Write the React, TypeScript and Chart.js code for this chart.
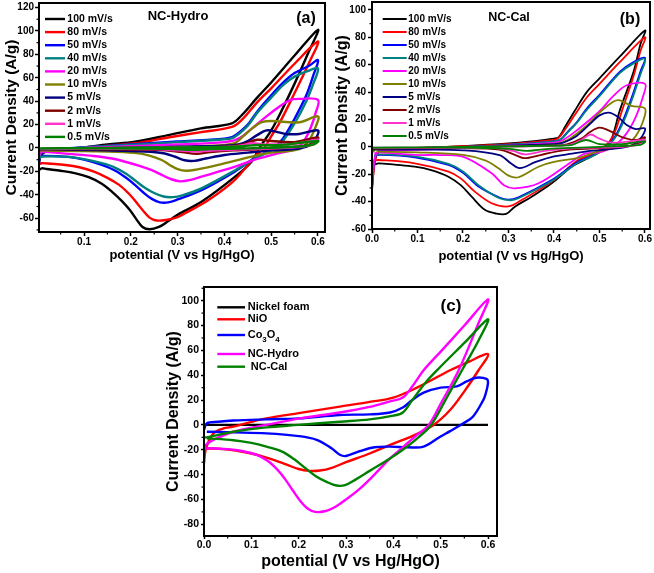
import React, { useEffect, useRef } from 'react';
import { Chart, registerables } from 'chart.js';

Chart.register(...registerables);

type Pt = [number, number];

const FONT = "'Liberation Sans', Arial, Helvetica, sans-serif";

// ---------------- Panel (a) NC-Hydro ----------------
const ratesA = ['100 mV/s', '80 mV/s', '50 mV/s', '40 mV/s', '20 mV/s', '10 mV/s', '5 mV/s', '2 mV/s', '1 mV/s', '0.5 mV/s'];
const xTicksA = [0.1, 0.2, 0.3, 0.4, 0.5, 0.6];
const yTicksA = [-60, -40, -20, 0, 20, 40, 60, 80, 100, 120];

const a100: Pt[] = [[0.001,-32],[0.006,-8],[0.02,-3],[0.05,-1.5],[0.1,0.5],[0.15,3],[0.209,5.4],[0.28,11],[0.35,16.8],[0.416,21],[0.437,28],[0.47,43],[0.5,56],[0.55,79],[0.6,101],
  [0.58,82],[0.55,55],[0.52,30],[0.5,15],[0.475,0],[0.458,-11.7],[0.423,-24.5],[0.351,-46],[0.3,-57],[0.28,-62.5],[0.26,-67.5],[0.24,-69.5],[0.225,-67.5],[0.212,-61],[0.198,-53],[0.18,-45],[0.16,-37.5],[0.138,-30.5],[0.11,-25],[0.08,-21.5],[0.05,-19.5],[0.02,-18],[0.0096,-17.4],[0.003,-19]];
const a80: Pt[] = [[0.001,-28],[0.006,-6],[0.02,-3],[0.05,-1.5],[0.1,0],[0.15,2],[0.209,4],[0.28,9],[0.35,13.5],[0.416,18],[0.437,24],[0.47,39],[0.5,51],[0.55,72],[0.6,91],
  [0.58,72],[0.55,47],[0.52,23],[0.5,10],[0.485,0],[0.465,-7.4],[0.423,-27],[0.366,-44.5],[0.316,-55.8],[0.3,-59],[0.275,-61.5],[0.255,-62],[0.24,-59.5],[0.225,-53],[0.21,-45.5],[0.195,-38.7],[0.175,-31.5],[0.15,-25.5],[0.12,-20],[0.09,-16.5],[0.06,-14.5],[0.03,-13.5],[0.0096,-13],[0.003,-14]];
const a50: Pt[] = [[0.001,-45],[0.006,-6],[0.02,-2.5],[0.05,-1],[0.1,0.5],[0.2,3],[0.3,5.5],[0.4,8],[0.42,10],[0.45,20],[0.47,31],[0.5,45],[0.526,56],[0.55,64],[0.58,70],[0.6,75],
  [0.59,62],[0.575,45],[0.55,25],[0.525,8],[0.505,0],[0.465,-8.5],[0.423,-20],[0.351,-36],[0.3,-44],[0.28,-46.5],[0.262,-46.5],[0.245,-43.5],[0.228,-38.5],[0.21,-32],[0.19,-25.5],[0.165,-19],[0.138,-14.5],[0.1,-10],[0.066,-7.6],[0.0096,-6.8],[0.003,-8]];
const a40: Pt[] = [[0.001,-20],[0.006,-5],[0.02,-2],[0.05,-1],[0.1,0.5],[0.2,2.5],[0.3,5],[0.4,7.5],[0.42,9],[0.45,19],[0.47,30],[0.5,43],[0.526,54],[0.55,61],[0.58,66],[0.6,68],
  [0.59,55],[0.575,40],[0.55,21],[0.525,6],[0.51,0],[0.465,-9],[0.423,-19],[0.351,-34.5],[0.31,-40.5],[0.29,-42],[0.27,-41.5],[0.25,-38.5],[0.23,-34],[0.21,-28],[0.19,-22],[0.165,-16.5],[0.138,-13],[0.1,-9.5],[0.066,-7.6],[0.0096,-7.4],[0.003,-9]];
const a20: Pt[] = [[0.001,-12],[0.008,-3],[0.03,-1],[0.1,0],[0.2,1.5],[0.3,3],[0.4,5],[0.43,8],[0.46,17],[0.49,27],[0.52,36],[0.54,41],[0.56,42],[0.6,41],
  [0.595,30],[0.585,18],[0.57,6],[0.55,-1],[0.51,-5],[0.465,-10],[0.423,-16],[0.351,-24.5],[0.325,-27.5],[0.305,-28.5],[0.285,-26.5],[0.266,-23],[0.245,-19],[0.22,-15.5],[0.19,-12],[0.16,-9],[0.12,-6.8],[0.066,-5],[0.0096,-3]];
const a10: Pt[] = [[0.001,-6],[0.008,-2],[0.05,-1],[0.2,0],[0.35,1.5],[0.42,4],[0.44,10],[0.46,17],[0.48,22],[0.5,23],[0.56,22],[0.6,27],
  [0.595,18],[0.58,6],[0.56,-1],[0.5,-4],[0.458,-7.4],[0.387,-14.5],[0.34,-18.5],[0.318,-19.5],[0.3,-18],[0.283,-14.5],[0.266,-10.3],[0.24,-6.5],[0.209,-4.2],[0.15,-3],[0.05,-2.5],[0.0096,-2]];
const a5: Pt[] = [[0.001,-3],[0.01,-1],[0.1,-0.5],[0.2,0],[0.3,1],[0.4,2],[0.43,3],[0.45,6],[0.47,11],[0.49,15],[0.51,14],[0.53,12],[0.56,12],[0.6,15],
  [0.595,8],[0.58,2],[0.55,-1],[0.5,-2],[0.45,-4],[0.4,-6],[0.36,-9],[0.335,-11],[0.315,-10.5],[0.295,-7.5],[0.27,-4.5],[0.23,-3],[0.15,-2],[0.01,-1]];
const a2: Pt[] = [[0.001,-1.5],[0.01,-1],[0.2,0],[0.4,1],[0.44,3],[0.47,7],[0.5,6],[0.55,5],[0.6,9],
  [0.59,4],[0.55,1],[0.5,-0.5],[0.42,-2],[0.37,-3.5],[0.34,-5],[0.31,-3.5],[0.26,-1.5],[0.1,-1],[0.01,-1]];
const a1: Pt[] = [[0.001,-1],[0.2,0],[0.42,1],[0.44,2.5],[0.46,4],[0.49,3],[0.55,3.5],[0.6,7],
  [0.59,3],[0.55,0.5],[0.45,-1],[0.38,-2],[0.34,-3],[0.3,-2],[0.25,-1],[0.1,-0.5],[0.01,-0.5]];
const a05: Pt[] = [[0.001,-0.5],[0.2,0.2],[0.4,0.8],[0.44,1.5],[0.47,2.5],[0.52,2.5],[0.6,6],
  [0.59,3],[0.55,1],[0.45,-0.3],[0.37,-1],[0.33,-1.5],[0.28,-0.8],[0.15,-0.3],[0.01,-0.3]];

// ---------------- Panel (b) NC-Cal ----------------
const ratesB = ratesA;
const xTicksB = [0.0, 0.1, 0.2, 0.3, 0.4, 0.5, 0.6];
const yTicksB = [-60, -40, -20, 0, 20, 40, 60, 80, 100];

const b100: Pt[] = [[0.0,-30],[0.008,-8],[0.02,-3],[0.05,-2],[0.1,-1],[0.2,0.5],[0.3,2.5],[0.35,4],[0.4,6],[0.41,7],[0.425,15],[0.445,26],[0.472,40],[0.5,50],[0.545,66],[0.6,85],
  [0.59,75],[0.575,55],[0.545,27],[0.523,3],[0.5,-4],[0.47,-9],[0.439,-14.5],[0.395,-26.6],[0.351,-36.4],[0.314,-43.7],[0.295,-49],[0.27,-48.5],[0.248,-46],[0.219,-36.4],[0.195,-28],[0.168,-21.8],[0.13,-17],[0.094,-14.5],[0.05,-13],[0.014,-12],[0.005,-13]];
const b80: Pt[] = [[0.0,-32],[0.008,-8],[0.02,-3],[0.05,-2],[0.1,-1],[0.2,0.5],[0.3,2],[0.4,5],[0.41,6.5],[0.425,13],[0.445,23],[0.472,36],[0.5,46],[0.545,62],[0.6,80],
  [0.59,70],[0.575,52],[0.55,27],[0.53,8],[0.51,0],[0.48,-6],[0.453,-9.6],[0.395,-25.4],[0.329,-38.8],[0.3,-43.5],[0.263,-41.2],[0.226,-32.7],[0.195,-23],[0.168,-18.1],[0.094,-12],[0.014,-9.6],[0.005,-10]];
const b50: Pt[] = [[0.0,-25],[0.008,-7],[0.02,-3],[0.05,-1.5],[0.1,-1],[0.2,0],[0.3,1.5],[0.4,4],[0.415,5.5],[0.43,11],[0.45,18],[0.472,28],[0.5,38],[0.545,55],[0.575,62],[0.6,65],
  [0.59,55],[0.575,40],[0.555,22],[0.535,8],[0.515,0],[0.48,-7],[0.453,-10.8],[0.395,-24.2],[0.322,-36.8],[0.3,-38.5],[0.28,-37],[0.234,-29],[0.2,-19],[0.168,-13.2],[0.094,-7.6],[0.014,-5.9],[0.005,-7]];
const b40: Pt[] = [[0.0,-22],[0.008,-6],[0.02,-2.5],[0.05,-1.5],[0.1,-1],[0.2,0],[0.3,1.5],[0.4,4],[0.415,5.5],[0.43,10.5],[0.45,17.5],[0.472,27],[0.5,37],[0.545,54],[0.575,61],[0.6,64],
  [0.59,53],[0.575,38],[0.555,20],[0.535,7],[0.515,-0.5],[0.48,-7.5],[0.453,-11.5],[0.395,-25],[0.322,-37.5],[0.305,-39],[0.28,-37.5],[0.234,-28],[0.2,-18],[0.168,-12.5],[0.094,-7],[0.014,-5.5],[0.005,-6.5]];
const b20: Pt[] = [[0.0,-28],[0.008,-6],[0.02,-3],[0.05,-2.5],[0.2,-1],[0.3,1],[0.4,3],[0.42,5],[0.45,12],[0.5,26],[0.53,37],[0.56,45],[0.6,46],
  [0.595,36],[0.58,22],[0.56,10],[0.53,0],[0.5,-4],[0.468,-5],[0.439,-10.8],[0.366,-26.6],[0.314,-30.3],[0.29,-28],[0.263,-19.3],[0.2,-7.2],[0.15,-6],[0.094,-5.9],[0.014,-4],[0.005,-5]];
const b10: Pt[] = [[0.0,-4],[0.01,-2],[0.1,-1],[0.3,0.5],[0.4,2],[0.43,5],[0.47,15],[0.5,25],[0.53,33],[0.545,34],[0.57,30],[0.6,28],
  [0.595,18],[0.58,8],[0.56,2],[0.52,-1.5],[0.49,-4],[0.453,-8],[0.4,-11],[0.366,-14.5],[0.322,-22.2],[0.3,-21],[0.278,-15.6],[0.25,-10],[0.2,-5.9],[0.1,-4],[0.01,-3.5]];
const b5: Pt[] = [[0.0,-2.5],[0.01,-1.5],[0.2,0],[0.4,2],[0.42,3],[0.45,8],[0.48,17],[0.5,23],[0.52,25],[0.54,22],[0.56,16],[0.58,13],[0.6,13.5],
  [0.59,6],[0.57,1],[0.53,-1.5],[0.48,-3],[0.44,-5],[0.4,-7],[0.36,-11],[0.325,-15.6],[0.305,-12],[0.28,-6],[0.2,-2.5],[0.1,-2],[0.01,-2]];
const b2: Pt[] = [[0.0,-1.5],[0.2,0],[0.4,1],[0.43,2],[0.46,6],[0.48,11],[0.5,14],[0.52,12],[0.55,7],[0.58,5],[0.6,7],
  [0.59,3],[0.56,0.5],[0.5,-1],[0.42,-2.5],[0.37,-6],[0.335,-8.3],[0.315,-6],[0.28,-2],[0.2,-1],[0.0,-1]];
const b1: Pt[] = [[0.0,-1],[0.2,0],[0.42,1],[0.44,2],[0.46,5],[0.48,9],[0.5,6],[0.53,3],[0.6,5],
  [0.59,2],[0.55,0],[0.45,-1],[0.38,-3],[0.336,-5.5],[0.31,-3],[0.27,-1],[0.0,-0.5]];
const b05: Pt[] = [[0.0,-0.8],[0.2,0],[0.42,1],[0.44,1.5],[0.47,5],[0.5,2],[0.55,2],[0.6,4],
  [0.59,1.5],[0.5,0],[0.42,-1],[0.37,-2],[0.34,-3],[0.3,-1.5],[0.2,-0.5],[0.0,-0.5]];

// ---------------- Panel (c) comparison ----------------
const samplesC = ['Nickel foam', 'NiO', 'Co3O4', 'NC-Hydro', ' NC-Cal'];
const xTicksC = [0.0, 0.1, 0.2, 0.3, 0.4, 0.5, 0.6];
const yTicksC = [-80, -60, -40, -20, 0, 20, 40, 60, 80, 100];

const nickelFoam: Pt[] = [[0.0,0],[0.6,0]];
const nio: Pt[] = [[0.0,-31],[0.004,-19],[0.02,-6.8],[0.04,-3],[0.062,-1.4],[0.1,2.5],[0.132,5.3],[0.2,9.5],[0.287,14.7],[0.35,18.5],[0.4,22],[0.45,30],[0.5,40],[0.52,44],[0.56,51],[0.6,57],
  [0.58,44],[0.55,27],[0.52,12],[0.485,0],[0.44,-9],[0.4,-15],[0.35,-23],[0.3,-30],[0.27,-34.5],[0.245,-36.7],[0.222,-37],[0.2,-35.5],[0.175,-32],[0.15,-28.5],[0.125,-25.5],[0.1,-23],[0.07,-20.8],[0.04,-19.5],[0.006,-18.8]];
const co3o4: Pt[] = [[0.0,-4],[0.006,1.3],[0.03,2.5],[0.062,3.5],[0.132,4.5],[0.2,5.3],[0.287,8],[0.35,8.5],[0.393,10],[0.42,14],[0.44,20],[0.464,26],[0.5,30],[0.534,31],[0.555,35],[0.575,38],[0.597,37],
  [0.6,34],[0.595,25],[0.59,20],[0.568,6.6],[0.548,1.3],[0.52,-5],[0.499,-9.5],[0.464,-17.5],[0.43,-18],[0.393,-17.5],[0.36,-18],[0.33,-21],[0.3,-25],[0.287,-24],[0.27,-19],[0.238,-12],[0.2,-9],[0.132,-6.8],[0.062,-6],[0.006,-5.5]];
const ncHydro: Pt[] = [[0.0,-20],[0.004,-16],[0.02,-12],[0.062,-5.5],[0.132,0],[0.203,5.3],[0.287,10],[0.35,14.5],[0.393,19],[0.42,22],[0.44,31],[0.464,44],[0.5,59],[0.55,80],[0.6,101],
  [0.58,82],[0.538,44],[0.5,17],[0.475,0],[0.45,-8],[0.42,-18],[0.393,-27],[0.36,-40],[0.33,-51],[0.3,-60],[0.275,-66.5],[0.255,-69.5],[0.235,-70],[0.218,-67],[0.203,-61],[0.188,-53],[0.172,-44],[0.155,-36],[0.135,-29],[0.11,-24],[0.08,-21],[0.05,-19.5],[0.01,-18.8],[0.002,-19]];
const ncCal: Pt[] = [[0.0,-10],[0.006,-10],[0.062,-5.5],[0.132,-2],[0.2,0],[0.287,2.6],[0.35,4.5],[0.4,7.5],[0.42,10],[0.44,20],[0.47,35],[0.5,47],[0.55,66],[0.6,85],
  [0.58,68],[0.545,44],[0.51,20],[0.48,0],[0.45,-11],[0.42,-20],[0.393,-27],[0.35,-37],[0.32,-44],[0.298,-48.5],[0.28,-48.8],[0.26,-46],[0.238,-41.7],[0.215,-35],[0.19,-27.5],[0.165,-21.5],[0.132,-17.5],[0.1,-14.5],[0.062,-12.3],[0.006,-10.8]];

// ---------------- styles ----------------
const rateColors = ['#000000', '#ff0000', '#0000ff', '#008080', '#ff00ff', '#808000', '#000080', '#800000', '#ff33cc', '#008000'];
const sampleColors = ['#000000', '#ff0000', '#0000ff', '#ff00ff', '#008000'];

function drawLabel(ctx: CanvasRenderingContext2D, text: string, x: number, y: number, size: number) {
  const isFormula = /^[A-Z][a-z]?\d/.test(text.trim());
  if (!isFormula) {
    ctx.font = `bold ${size}px ${FONT}`;
    ctx.fillText(text, x, y);
    return;
  }
  const parts = text.split(/(\d+)/);
  let cx = x;
  parts.forEach((p, i) => {
    if (!p) return;
    const sub = i % 2 === 1;
    const s = sub ? size * 0.72 : size;
    ctx.font = `bold ${s}px ${FONT}`;
    ctx.fillText(p, cx, sub ? y + size * 0.4 : y);
    cx += ctx.measureText(p).width;
  });
}

const decorPlugin = {
  id: 'decor',
  afterDraw(chart: any, _args: any, opts: any) {
    const ctx: CanvasRenderingContext2D = chart.ctx;
    const { left, right, top, bottom } = chart.chartArea;
    ctx.save();
    ctx.strokeStyle = '#000';
    ctx.lineWidth = 1.2;
    const xs = chart.scales.x;
    const ys = chart.scales.y;
    const isMajor = (sc: any, v: number) => sc.ticks.some((t: any) => Math.abs(t.value - v) < 1e-6);
    if (opts.minorX) {
      const st = opts.minorX;
      for (let v = Math.ceil(xs.min / st - 1e-9) * st; v <= xs.max + 1e-9; v += st) {
        const vv = Math.round(v * 1e6) / 1e6;
        if (isMajor(xs, vv)) continue;
        const px = xs.getPixelForValue(vv);
        ctx.beginPath(); ctx.moveTo(px, bottom); ctx.lineTo(px, bottom + 2.5); ctx.stroke();
      }
    }
    if (opts.minorY) {
      const st = opts.minorY;
      for (let v = Math.ceil(ys.min / st - 1e-9) * st; v <= ys.max + 1e-9; v += st) {
        const vv = Math.round(v * 1e6) / 1e6;
        if (isMajor(ys, vv)) continue;
        const py = ys.getPixelForValue(vv);
        ctx.beginPath(); ctx.moveTo(left, py); ctx.lineTo(left - 2.5, py); ctx.stroke();
      }
    }
    ctx.lineWidth = 2;
    ctx.strokeRect(left, top, right - left, bottom - top);
    const lg = opts.legend;
    if (lg) {
      chart.data.datasets.forEach((ds: any, i: number) => {
        const y = lg.ys ? lg.ys[i] : lg.y0 + lg.dy * i;
        ctx.strokeStyle = ds.borderColor;
        ctx.lineWidth = lg.lw;
        ctx.beginPath(); ctx.moveTo(lg.x0, y); ctx.lineTo(lg.x1, y); ctx.stroke();
        ctx.fillStyle = '#000';
        ctx.textAlign = 'left';
        ctx.textBaseline = 'middle';
        drawLabel(ctx, ds.label, lg.tx, y, lg.size);
      });
    }
    (opts.texts || []).forEach((t: any) => {
      ctx.fillStyle = '#000';
      ctx.textAlign = 'center';
      ctx.textBaseline = 'middle';
      ctx.font = `bold ${t.size}px ${FONT}`;
      ctx.fillText(t.text, t.x, t.y);
    });
    ctx.restore();
  },
};

interface Spec {
  curves: Pt[][];
  labels: string[];
  colors: string[];
  lw: number;
  padding: any;
  xMin: number; xMax: number; yMin: number; yMax: number;
  xTicks: number[]; yTicks: number[];
  yW: number; xH: number;
  tickSize: number; tickLen: number; xTickPad: number; yTickPad: number;
  xTitleSize: number; xTitlePad: number; yTitleSize: number; yTitlePad: number;
  minorX: number; minorY: number;
  legend: any; texts: any[];
}

function makeChart(canvas: HTMLCanvasElement, s: Spec) {
  const tickFont = { family: FONT, size: s.tickSize, weight: 'bold' as const };
  return new Chart(canvas, {
    type: 'scatter',
    data: {
      datasets: s.curves.map((c, i) => ({
        label: s.labels[i],
        data: c.map(([x, y]) => ({ x, y })),
        showLine: true,
        borderColor: s.colors[i],
        backgroundColor: s.colors[i],
        borderWidth: s.lw,
        pointRadius: 0,
        pointHoverRadius: 0,
        tension: 0.35,
        fill: false,
        order: -i,
        clip: 0,
      })),
    },
    options: {
      responsive: false,
      animation: false,
      events: [],
      layout: { padding: s.padding },
      plugins: {
        legend: { display: false },
        tooltip: { enabled: false },
        decor: { minorX: s.minorX, minorY: s.minorY, legend: s.legend, texts: s.texts },
      } as any,
      scales: {
        x: {
          type: 'linear',
          min: s.xMin,
          max: s.xMax,
          afterBuildTicks: (sc: any) => { sc.ticks = s.xTicks.map((v) => ({ value: v })); },
          afterFit: (sc: any) => { sc.height = s.xH; sc.paddingLeft = 0; sc.paddingRight = 0; },
          grid: { display: true, drawOnChartArea: false, drawTicks: true, tickLength: s.tickLen, tickWidth: 1.5, tickColor: '#000', color: '#000' },
          border: { display: false },
          ticks: { autoSkip: false, maxRotation: 0, minRotation: 0, font: tickFont, color: '#000', padding: s.xTickPad, callback: (v: any) => Number(v).toFixed(1) },
          title: { display: true, text: 'potential (V vs Hg/HgO)', color: '#000', font: { family: FONT, size: s.xTitleSize, weight: 'bold' }, padding: { top: 0, bottom: s.xTitlePad } },
        },
        y: {
          type: 'linear',
          min: s.yMin,
          max: s.yMax,
          afterBuildTicks: (sc: any) => { sc.ticks = s.yTicks.map((v) => ({ value: v })); },
          afterFit: (sc: any) => { sc.width = s.yW; sc.paddingTop = 0; sc.paddingBottom = 0; },
          grid: { display: true, drawOnChartArea: false, drawTicks: true, tickLength: s.tickLen, tickWidth: 1.5, tickColor: '#000', color: '#000' },
          border: { display: false },
          ticks: { autoSkip: false, font: tickFont, color: '#000', padding: s.yTickPad, callback: (v: any) => String(v) },
          title: { display: true, text: 'Current Density (A/g)', color: '#000', font: { family: FONT, size: s.yTitleSize, weight: 'bold' }, padding: { top: s.yTitlePad, bottom: 0 } },
        },
      },
    } as any,
    plugins: [decorPlugin as any],
  });
}

const specA: Spec = {
  curves: [a100, a80, a50, a40, a20, a10, a5, a2, a1, a05],
  labels: ratesA, colors: rateColors, lw: 2.4,
  padding: { left: 0, top: 3, right: 5, bottom: 0 },
  xMin: 0.0038, xMax: 0.615, yMin: -71.8, yMax: 123.9,
  xTicks: xTicksA, yTicks: yTicksA, yW: 39, xH: 48,
  tickSize: 10, tickLen: 4, xTickPad: 0, yTickPad: 1,
  xTitleSize: 13, xTitlePad: 17, yTitleSize: 15.5, yTitlePad: 2.5,
  minorX: 0.05, minorY: 10,
  legend: { x0: 45, x1: 65, tx: 67.3, y0: 19, dy: 13.1, size: 10.5, lw: 2.4 },
  texts: [{ text: 'NC-Hydro', x: 178, y: 16, size: 13 }, { text: '(a)', x: 306, y: 18.5, size: 16 }],
};

const specB: Spec = {
  curves: [b100, b80, b50, b40, b20, b10, b5, b2, b1, b05],
  labels: ratesB, colors: rateColors, lw: 1.8,
  padding: { left: 0, top: 2, right: 4, bottom: 0 },
  xMin: 0, xMax: 0.611, yMin: -60, yMax: 105.8,
  xTicks: xTicksB, yTicks: yTicksB, yW: 45, xH: 51,
  tickSize: 10, tickLen: 4, xTickPad: 0, yTickPad: 2,
  xTitleSize: 13, xTitlePad: 15.5, yTitleSize: 16, yTitlePad: 5.9,
  minorX: 0.05, minorY: 10,
  legend: { x0: 55.7, x1: 79.7, tx: 81.3, y0: 19, dy: 13, size: 10, lw: 2 },
  texts: [{ text: 'NC-Cal', x: 182, y: 17.3, size: 12.5 }, { text: '(b)', x: 303, y: 19.3, size: 16 }],
};

const specC: Spec = {
  curves: [nickelFoam, nio, co3o4, ncHydro, ncCal],
  labels: samplesC, colors: sampleColors, lw: 2.4,
  padding: { left: 0, top: 2, right: 3, bottom: 0 },
  xMin: 0, xMax: 0.619, yMin: -89.4, yMax: 111,
  xTicks: xTicksC, yTicks: yTicksC, yW: 44, xH: 37,
  tickSize: 10.5, tickLen: 3, xTickPad: 0, yTickPad: 2,
  xTitleSize: 16, xTitlePad: 1.7, yTitleSize: 16, yTitlePad: 3.9,
  minorX: 0.05, minorY: 10,
  legend: { x0: 57.3, x1: 85, tx: 87.7, ys: [22.3, 34.3, 50, 69, 81.7], size: 11, lw: 2.4 },
  texts: [{ text: '(c)', x: 291, y: 21.7, size: 17 }],
};

function Panel({ spec, left, top, width, height }: { spec: Spec; left: number; top: number; width: number; height: number }) {
  const ref = useRef<HTMLCanvasElement>(null);
  useEffect(() => {
    if (!ref.current) return;
    const chart = makeChart(ref.current, spec);
    return () => chart.destroy();
  }, [spec]);
  return (
    <canvas
      ref={ref}
      width={width}
      height={height}
      style={{ position: 'absolute', left, top, width, height, display: 'block' }}
    />
  );
}

export default function App() {
  return (
    <div style={{ position: 'absolute', left: 0, top: 0, width: 654, height: 573, background: '#fff', overflow: 'hidden' }}>
      <Panel spec={specA} left={0} top={0} width={330} height={280} />
      <Panel spec={specB} left={327} top={0} width={327} height={280} />
      <Panel spec={specC} left={160} top={285} width={340} height={288} />
    </div>
  );
}
